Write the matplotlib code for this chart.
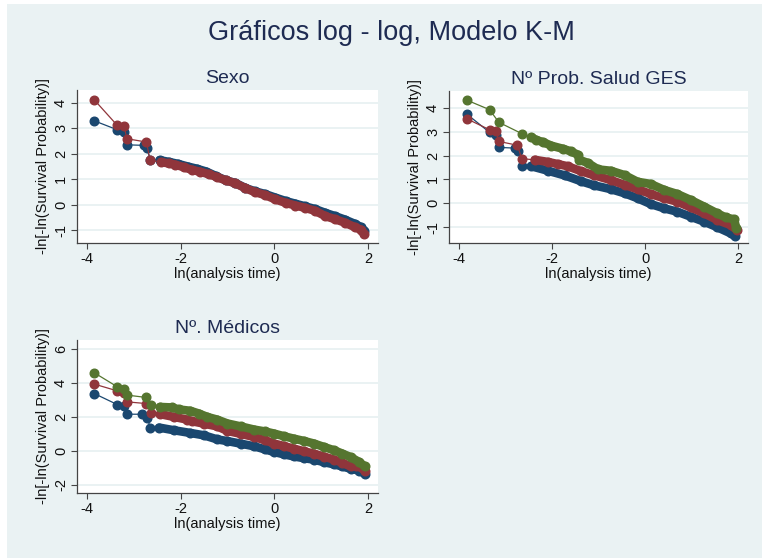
import matplotlib
matplotlib.use("Agg")
import matplotlib.pyplot as plt
from matplotlib.patches import Rectangle

plt.rcParams['font.family'] = ['Liberation Sans', 'DejaVu Sans']
plt.rcParams['axes.unicode_minus'] = False

main_title = "Gráficos log - log, Modelo K-M"
panel_titles = ["Sexo", "Nº Prob. Salud GES", "Nº. Médicos"]
x_label = "ln(analysis time)"
y_label = "-ln[-ln(Survival Probability)]"
x_ticks = [-4, -2, 0, 2]
y_ticks_12 = [-1, 0, 1, 2, 3, 4]
y_ticks_3 = [-2, 0, 2, 4, 6]

# Panel 1: Sexo
sexo_blue_x = [-3.84, -3.35, -3.20, -3.15, -2.79, -2.72, -2.65, -2.45, -2.25, -2.05, -1.85, -1.65, -1.45,
               -1.25, -1.04, -0.83, -0.62, -0.42, -0.20, 0.02, 0.25, 0.45, 0.65, 0.87, 1.09, 1.30, 1.50,
               1.73, 1.85, 1.92]
sexo_blue_y = [3.29, 2.94, 2.84, 2.35, 2.33, 2.22, 1.77, 1.75, 1.68, 1.60, 1.50, 1.41, 1.30, 1.13, 0.96,
               0.85, 0.66, 0.53, 0.42, 0.28, 0.14, 0.04, -0.06, -0.17, -0.32, -0.45, -0.58, -0.76, -0.88, -1.02]
sexo_red_x = [-3.84, -3.35, -3.20, -3.15, -2.73, -2.65, -2.41, -2.25, -2.11, -1.93, -1.76, -1.58, -1.40,
              -1.22, -1.04, -0.83, -0.62, -0.42, -0.20, 0.02, 0.25, 0.45, 0.65, 0.87, 1.09, 1.30, 1.50,
              1.73, 1.85, 1.91]
sexo_red_y = [4.11, 3.11, 3.07, 2.59, 2.46, 1.75, 1.67, 1.62, 1.57, 1.47, 1.37, 1.29, 1.20, 1.08, 0.96,
              0.84, 0.65, 0.50, 0.38, 0.21, 0.07, -0.03, -0.12, -0.24, -0.45, -0.57, -0.70, -0.89, -0.98, -1.15]

# Panel 2: Nº Prob. Salud GES
ges_blue_x = [-3.83, -3.34, -3.20, -3.14, -2.79, -2.72, -2.65, -2.44, -2.08, -1.73, -1.37, -1.09, -0.73,
              -0.44, -0.16, 0.12, 0.41, 0.69, 0.98, 1.27, 1.55, 1.84, 1.93]
ges_blue_y = [3.74, 2.97, 2.87, 2.34, 2.31, 2.18, 1.57, 1.55, 1.36, 1.17, 0.92, 0.75, 0.59, 0.42, 0.21,
              -0.03, -0.21, -0.35, -0.56, -0.77, -1.00, -1.26, -1.37]
ges_red_x = [-3.83, -3.34, -3.20, -3.14, -2.74, -2.65, -2.37, -2.08, -1.87, -1.66, -1.37, -1.09, -0.73,
             -0.44, -0.16, 0.12, 0.41, 0.69, 0.98, 1.27, 1.55, 1.84, 1.97]
ges_red_y = [3.54, 3.08, 3.01, 2.59, 2.43, 1.87, 1.82, 1.73, 1.64, 1.55, 1.34, 1.17, 0.97, 0.77, 0.59,
             0.39, 0.21, 0.07, -0.17, -0.42, -0.70, -0.91, -1.12]
ges_green_x = [-3.83, -3.34, -3.14, -2.64, -2.44, -2.35, -2.19, -2.01, -1.76, -1.60, -1.44, -1.41, -1.23,
               -1.01, -0.73, -0.44, -0.16, 0.12, 0.41, 0.69, 0.98, 1.27, 1.55, 1.73, 1.91, 1.96]
ges_green_y = [4.32, 3.92, 3.39, 2.91, 2.77, 2.66, 2.56, 2.41, 2.28, 2.18, 2.03, 1.82, 1.69, 1.42, 1.36,
               1.18, 0.90, 0.81, 0.56, 0.39, 0.14, -0.14, -0.42, -0.59, -0.67, -1.05]

# Panel 3: Nº. Médicos
med_blue_x = [-3.84, -3.35, -3.21, -3.14, -2.82, -2.71, -2.65, -2.46, -2.14, -1.79, -1.50, -1.22, -1.00,
              -0.72, -0.43, -0.20, 0.00, 0.20, 0.42, 0.63, 0.85, 1.06, 1.28, 1.45, 1.63, 1.81, 1.93]
med_blue_y = [3.38, 2.73, 2.65, 2.16, 2.16, 1.96, 1.37, 1.37, 1.21, 1.05, 0.91, 0.67, 0.57, 0.42, 0.26,
              0.08, -0.08, -0.21, -0.34, -0.44, -0.53, -0.68, -0.81, -0.93, -1.07, -1.17, -1.37]
med_red_x = [-3.84, -3.35, -3.21, -3.14, -2.73, -2.64, -2.43, -2.14, -1.86, -1.75, -1.50, -1.22, -1.00,
             -0.72, -0.43, -0.20, 0.00, 0.20, 0.42, 0.63, 0.85, 1.06, 1.28, 1.45, 1.63, 1.75, 1.85, 1.93]
med_red_y = [3.94, 3.54, 3.44, 2.89, 2.79, 2.26, 2.16, 2.00, 1.84, 1.74, 1.60, 1.44, 1.17, 1.00, 0.81,
             0.62, 0.42, 0.28, 0.12, -0.03, -0.18, -0.35, -0.53, -0.72, -0.93, -0.90, -0.98, -1.21]
med_green_x = [-3.84, -3.35, -3.21, -3.14, -2.73, -2.64, -2.44, -2.19, -2.03, -1.79, -1.61, -1.43, -1.22,
               -1.00, -0.72, -0.43, -0.20, 0.00, 0.20, 0.42, 0.63, 0.85, 1.06, 1.28, 1.45, 1.63, 1.81, 1.93]
med_green_y = [4.61, 3.78, 3.64, 3.29, 3.15, 2.73, 2.59, 2.56, 2.44, 2.36, 2.20, 2.00, 1.84, 1.61, 1.44,
               1.25, 1.14, 1.01, 0.86, 0.71, 0.58, 0.42, 0.22, 0.02, -0.17, -0.38, -0.67, -0.93]

NAVY = "#1A476F"
MAROON = "#90353B"
GREEN = "#55752F"
BG = "#EAF2F3"
TITLE_C = "#1E2B52"

W, H = 762, 558
fig = plt.figure(figsize=(W / 100, H / 100), dpi=100)
fig.patch.set_facecolor("white")
bg_rect = Rectangle((7 / W, 0), 1 - 7 / W, 1 - 4 / H, transform=fig.transFigure,
                    facecolor=BG, edgecolor="none", zorder=-10)
fig.add_artist(bg_rect)


def make_ax(l, t, r, b):
    return fig.add_axes([l / W, 1 - b / H, (r - l) / W, (b - t) / H])


def draw_series(ax, xs, ys, color):
    ax.plot(xs, ys, color=color, lw=0.9, marker="o", ms=6.2, mec=color, mfc=color, zorder=3)
    dx = [x for x in xs if x >= -2.5]
    dy = [y for x, y in zip(xs, ys) if x >= -2.5]
    ax.plot(dx, dy, color=color, lw=6.2, solid_capstyle="round", solid_joinstyle="round", zorder=3)


def style(ax, title, ylim, yticks):
    ax.set_facecolor("white")
    ax.set_xlim(-4.21, 2.21)
    ax.set_ylim(*ylim)
    ax.set_xticks(x_ticks)
    ax.set_yticks(yticks)
    ax.set_yticklabels([str(v) for v in yticks], rotation=90, va="center")
    for s in ["top", "right"]:
        ax.spines[s].set_visible(False)
    for s in ["left", "bottom"]:
        ax.spines[s].set_color("#444444")
        ax.spines[s].set_linewidth(0.9)
    ax.tick_params(direction="out", length=4.5, width=0.8, color="#444444", labelsize=10.5,
                   labelcolor="#111111", pad=2)
    ax.grid(axis="y", color=BG, lw=1.4, zorder=0)
    ax.grid(axis="x", visible=False)
    ax.set_axisbelow(True)
    ax.set_title(title, fontsize=14, color=TITLE_C, pad=5)
    ax.set_xlabel(x_label, fontsize=10.5, color="#111111", labelpad=1)
    ax.set_ylabel(y_label, fontsize=10.5, color="#111111", labelpad=3)


ax1 = make_ax(77, 90, 378, 243)
draw_series(ax1, sexo_blue_x, sexo_blue_y, NAVY)
draw_series(ax1, sexo_red_x, sexo_red_y, MAROON)
style(ax1, panel_titles[0], (-1.5, 4.5), y_ticks_12)

ax2 = make_ax(449, 91, 748, 243)
draw_series(ax2, ges_blue_x, ges_blue_y, NAVY)
draw_series(ax2, ges_red_x, ges_red_y, MAROON)
draw_series(ax2, ges_green_x, ges_green_y, GREEN)
style(ax2, panel_titles[1], (-1.66, 4.7), y_ticks_12)

ax3 = make_ax(77, 340, 378, 493)
draw_series(ax3, med_blue_x, med_blue_y, NAVY)
draw_series(ax3, med_red_x, med_red_y, MAROON)
draw_series(ax3, med_green_x, med_green_y, GREEN)
style(ax3, panel_titles[2], (-2.5, 6.55), y_ticks_3)

fig.text(391.5 / W, 1 - 33 / H, main_title, ha="center", va="center", fontsize=19.5, color=TITLE_C)

fig.savefig("out.png", dpi=100)
